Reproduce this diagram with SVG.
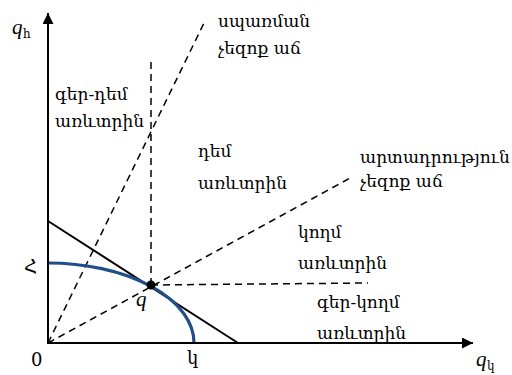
<svg xmlns="http://www.w3.org/2000/svg" width="512" height="375" viewBox="0 0 512 375">
<defs>
<style>
.lbl{font-family:"DejaVu Serif","Noto Serif Armenian","Noto Sans",serif;font-size:17px;fill:#000}
.var{font-family:"Liberation Serif","DejaVu Serif",serif;font-style:italic;font-size:21px;fill:#000}
.sub{font-family:"DejaVu Serif","Noto Sans",serif;font-size:12px;fill:#000}
.tick{font-family:"DejaVu Serif","Liberation Serif",serif;font-size:18px;fill:#000}
.dash{fill:none;stroke:#000;stroke-width:1.5;stroke-dasharray:7 5}
.axis{fill:none;stroke:#000;stroke-width:2}
</style>
<marker id="ah" viewBox="0 0 10 10" refX="10" refY="5" markerWidth="16" markerHeight="11" markerUnits="userSpaceOnUse" orient="auto">
<path d="M0,0 L10,5 L0,10 Z" fill="#000"/>
</marker>
</defs>
<rect width="512" height="375" fill="#fff"/>
<g id="connectors">
<path class="dash" d="M151,285 L151,57"/>
<path class="dash" d="M48,343 L205,21"/>
<path class="dash" d="M48,343 L352,177"/>
<path class="dash" d="M151,285 L368,283"/>
<path d="M48,221 L238,343" fill="none" stroke="#000" stroke-width="2"/>
<path d="M48,263 A146,80 0 0 1 194,343" fill="none" stroke="#1f4e8a" stroke-width="3.2"/>
<path class="axis" d="M48,344 L48,13" marker-end="url(#ah)"/>
<path class="axis" d="M47,343 L473,343" marker-end="url(#ah)"/>
</g>
<g id="point-q">
<circle cx="151" cy="285" r="4.5" fill="#000"/>
<text class="var" x="136" y="306">q</text>
</g>
<g id="axis-y-label"><text class="var" x="12" y="34">q</text><text class="sub" x="23" y="38">հ</text></g>
<g id="axis-x-label"><text class="var" x="476" y="366">q</text><text class="sub" x="487" y="370">կ</text></g>
<g id="origin"><text class="tick" x="31" y="366">0</text></g>
<g id="y-intercept"><text class="tick" x="24" y="273">Հ</text></g>
<g id="x-intercept"><text class="tick" x="187" y="364">կ</text></g>
<g id="label-consumption"><text class="lbl" x="218" y="27">սպառման</text><text class="lbl" x="218" y="54">չեզոք աճ</text></g>
<g id="label-ultra-anti"><text class="lbl" x="55" y="100">գեր-դեմ</text><text class="lbl" x="55" y="127">առևտրին</text></g>
<g id="label-anti"><text class="lbl" x="198" y="157">դեմ</text><text class="lbl" x="198" y="189">առևտրին</text></g>
<g id="label-production"><text class="lbl" x="360" y="163">արտադրություն</text><text class="lbl" x="360" y="187">չեզոք աճ</text></g>
<g id="label-pro"><text class="lbl" x="298" y="238">կողմ</text><text class="lbl" x="298" y="269">առևտրին</text></g>
<g id="label-ultra-pro"><text class="lbl" x="317" y="308">գեր-կողմ</text><text class="lbl" x="317" y="339">առևտրին</text></g>
</svg>
